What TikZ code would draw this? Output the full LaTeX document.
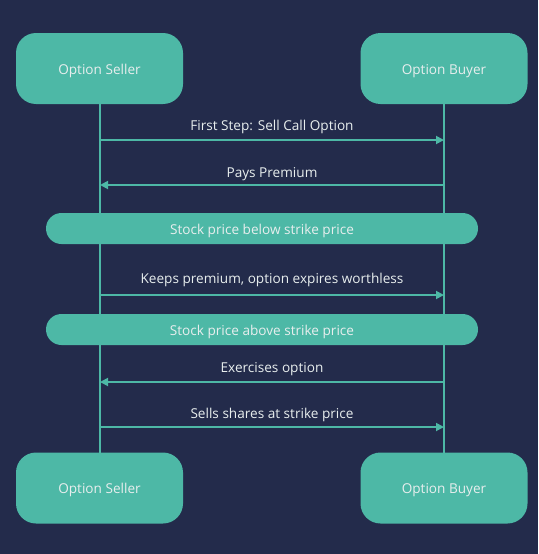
\documentclass[tikz,border=0pt]{standalone}
\usepackage{fontspec}
\setmainfont{Open Sans}
\usetikzlibrary{arrows.meta}
\definecolor{bg}{HTML}{232B4B}
\definecolor{teal}{HTML}{4DB8A6}
\definecolor{txt}{HTML}{E8EEEE}
\begin{document}
\begin{tikzpicture}[x=1pt,y=-1pt,
  actor/.style={fill=teal,rounded corners=20pt,minimum width=167pt,minimum height=71pt,inner sep=0pt,text=txt,text height=13pt,text depth=2pt,font=\fontsize{13.6}{15}\selectfont},
  bar/.style={fill=teal,rounded corners=15.5pt,minimum width=432pt,minimum height=31pt,inner sep=0pt,text=txt,text height=13pt,text depth=2pt,font=\fontsize{13.6}{15}\selectfont},
  life/.style={draw=teal,line width=1.8pt},
  msg/.style={draw=teal,line width=1.8pt,-{Triangle[length=8pt,width=8pt]}},
  lbl/.style={text=txt,font=\fontsize{13.6}{15}\selectfont,inner sep=0pt,anchor=base}]
\fill[bg] (0,0) rectangle (538,554);
\useasboundingbox (0,0) rectangle (538,554);
\coordinate (ls) at (100,104);
\coordinate (le) at (100,453);
\coordinate (rs) at (444,104);
\coordinate (re) at (444,453);
\draw[life] (ls) -- (le);
\draw[life] (rs) -- (re);
\node[actor] (s1) at (99.5,68.5) {Option Seller};
\node[actor] (b1) at (444,68.5) {Option Buyer};
\node[actor] (s2) at (99.5,488) {Option Seller};
\node[actor] (b2) at (444,488) {Option Buyer};
\node[bar] (c1) at (262,228.5) {Stock price below strike price};
\node[bar] (c2) at (262,329.5) {Stock price above strike price};
\coordinate (a1l) at (100,140); \coordinate (a1r) at (444,140);
\coordinate (a2l) at (100,185); \coordinate (a2r) at (444,185);
\coordinate (a3l) at (100,295); \coordinate (a3r) at (444,295);
\coordinate (a4l) at (100,382); \coordinate (a4r) at (444,382);
\coordinate (a5l) at (100,427); \coordinate (a5r) at (444,427);
\draw[msg] (a1l) -- (a1r);
\draw[msg] (a2r) -- (a2l);
\draw[msg] (a3l) -- (a3r);
\draw[msg] (a4r) -- (a4l);
\draw[msg] (a5l) -- (a5r);
\node[lbl] (t1) at (272,130.5) {First Step: Sell Call Option};
\node[lbl] (t2) at (272,177.5) {Pays Premium};
\node[lbl] (t3) at (272,283.5) {Keeps premium, option expires worthless};
\node[lbl] (t4) at (272,372.5) {Exercises option};
\node[lbl] (t5) at (272,418.5) {Sells shares at strike price};
\end{tikzpicture}
\end{document}
